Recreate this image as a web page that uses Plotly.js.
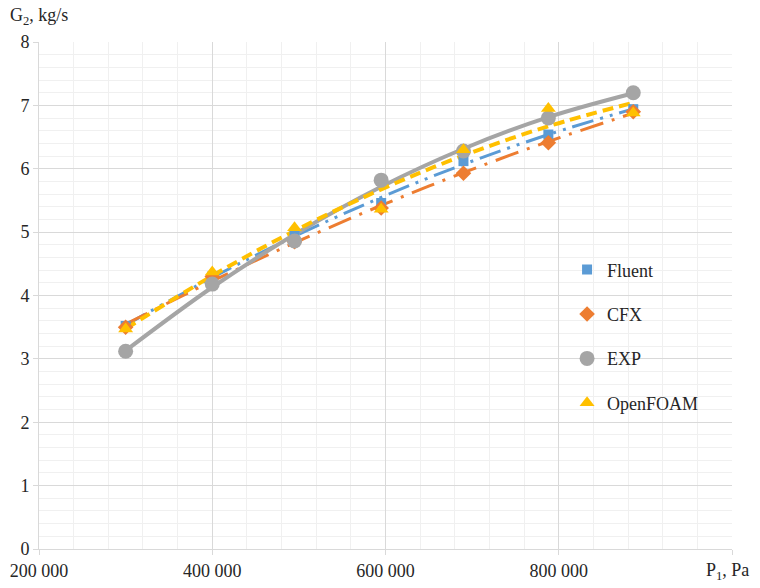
<!DOCTYPE html>
<html>
<head>
<meta charset="utf-8">
<script src="https://cdn.plot.ly/plotly-3.0.1.min.js"></script>
<style>html,body{margin:0;padding:0;background:#fff;}#chart{width:760px;height:588px;}</style>
</head>
<body>
<div id="chart"></div>
<script>
// ---- data ----
const pressure = [300000, 400000, 495000, 595000, 690000, 788000, 886000];
const fluent   = [3.52, 4.30, 4.97, 5.46, 6.12, 6.54, 6.94];
const cfx      = [3.50, 4.30, 4.85, 5.38, 5.93, 6.41, 6.90];
const exp      = [3.12, 4.18, 4.86, 5.82, 6.28, 6.80, 7.20];
const openfoam = [3.47, 4.37, 5.07, 5.36, 6.30, 6.95, 6.88];
const seriesNames = ['Fluent', 'CFX', 'EXP', 'OpenFOAM'];
const xTickVals = [200000, 400000, 600000, 800000, 1000000];
const xTickText = ['200 000', '400 000', '600 000', '800 000', ' '];
const yTickVals = [0, 1, 2, 3, 4, 5, 6, 7, 8];

// Excel-style polynomial (order 2) trendline, least squares fit of the data
function quadFit(xs, ys) {
  const n = xs.length, s = xs.map(v => v / 1e6);
  let S = [0,0,0,0,0], T = [0,0,0];
  for (let i = 0; i < n; i++) {
    let p = 1;
    for (let k = 0; k < 5; k++) { S[k] += p; p *= s[i]; }
    T[0] += ys[i]; T[1] += ys[i]*s[i]; T[2] += ys[i]*s[i]*s[i];
  }
  const A = [[S[0],S[1],S[2],T[0]],[S[1],S[2],S[3],T[1]],[S[2],S[3],S[4],T[2]]];
  for (let c = 0; c < 3; c++) {
    for (let r = c+1; r < 3; r++) {
      const f = A[r][c]/A[c][c];
      for (let k = c; k < 4; k++) A[r][k] -= f*A[c][k];
    }
  }
  const b = [0,0,0];
  for (let r = 2; r >= 0; r--) {
    let v = A[r][3];
    for (let k = r+1; k < 3; k++) v -= A[r][k]*b[k];
    b[r] = v/A[r][r];
  }
  return s.map(v => b[0] + b[1]*v + b[2]*v*v);
}

const serif = 'Liberation Serif, Times New Roman, serif';
const txt = '#262626';

const styles = [
  {color:'#5B9BD5', symbol:'square', size:10, dash:'22px,7px,3px,7px,3px,7px', width:3},
  {color:'#ED7D31', symbol:'diamond', size:12, dash:'24px,9px,3px,9px', width:3},
  {color:'#A5A5A5', symbol:'circle', size:15, dash:'solid', width:4},
  {color:'#FFC000', symbol:'triangle-up', size:13, dash:'11px,6px', width:4}
];
const data = [fluent, cfx, exp, openfoam];

const traces = [];
// trendlines first (drawn below markers)
data.forEach((ys, i) => {
  traces.push({
    x: pressure, y: quadFit(pressure, ys), type: 'scatter', mode: 'lines',
    line: {color: styles[i].color, width: styles[i].width, dash: styles[i].dash, shape: 'spline'},
    showlegend: false, hoverinfo: 'skip'
  });
});
data.forEach((ys, i) => {
  traces.push({
    x: pressure, y: ys, type: 'scatter', mode: 'markers', name: seriesNames[i],
    legendgroup: 'g' + i,
    marker: {color: styles[i].color, symbol: styles[i].symbol, size: styles[i].size}
  });
});

const layout = {
  width: 760, height: 588,
  margin: {l: 39, r: 28, t: 42, b: 39},
  paper_bgcolor: '#fff', plot_bgcolor: '#fff',
  separators: ', ',
  font: {family: serif, size: 18, color: txt},
  xaxis: {
    range: [200000, 1000000], tickvals: xTickVals, ticktext: xTickText,
    showgrid: true, gridcolor: '#D9D9D9', gridwidth: 1,
    minor: {dtick: 40000, showgrid: true, gridcolor: '#F0F0F0', gridwidth: 1},
    showline: true, linecolor: '#D9D9D9', linewidth: 1,
    ticks: 'outside', ticklen: 5, tickcolor: '#D9D9D9',
    zeroline: false, tickfont: {family: serif, size: 18, color: txt}
  },
  yaxis: {
    range: [0, 8], tickvals: yTickVals,
    showgrid: true, gridcolor: '#D9D9D9', gridwidth: 1,
    minor: {dtick: 0.2, showgrid: true, gridcolor: '#F0F0F0', gridwidth: 1},
    showline: true, linecolor: '#D9D9D9', linewidth: 1,
    ticks: 'outside', ticklen: 5, tickcolor: '#D9D9D9',
    zeroline: false, tickfont: {family: serif, size: 18, color: txt}
  },
  showlegend: true,
  legend: {
    x: 0.762, y: 0.587, xanchor: 'left', yanchor: 'top',
    bgcolor: 'rgba(0,0,0,0)', traceorder: 'grouped', tracegroupgap: 18,
    font: {family: serif, size: 18, color: txt}
  },
  annotations: [
    {text: 'G<sub>2</sub>, kg/s', xref: 'paper', yref: 'paper', x: -0.045, y: 1.05,
     xanchor: 'left', yanchor: 'middle', showarrow: false,
     font: {family: serif, size: 18, color: txt}},
    {text: 'P<sub>1</sub>, Pa', xref: 'x', yref: 'paper', x: 1000000, y: -0.045,
     xanchor: 'center', yanchor: 'middle', xshift: -5, showarrow: false,
     font: {family: serif, size: 18, color: txt}}
  ]
};

Plotly.newPlot('chart', traces, layout, {displayModeBar: false, staticPlot: true});
</script>
</body>
</html>
